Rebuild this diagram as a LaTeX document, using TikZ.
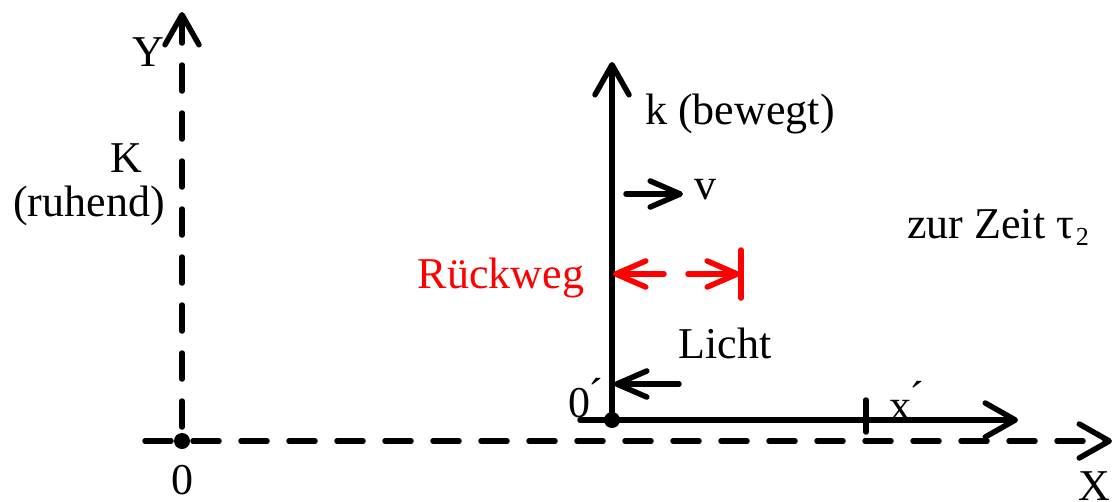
\documentclass[tikz,border=0pt]{standalone}
\usepackage{fontspec}
\setmainfont{Liberation Serif}
\usetikzlibrary{arrows.meta}
\begin{document}
\begin{tikzpicture}[x=1pt,y=-1pt,
  lbl/.style={font=\fontsize{44}{48}\selectfont, inner sep=0pt},
  ax/.style={line width=5.5pt, line cap=round},
  dash axis/.style={ax, dash pattern=on 26pt off 22pt},
  tip/.style={-{Straight Barb[length=30pt,width=34pt,line cap=round,line join=round]}},
  smalltip/.style={-{Straight Barb[length=30pt,width=26pt,line cap=round,line join=round]}},
  dotnode/.style={circle, fill=black, inner sep=0pt, minimum size=16pt}]
\useasboundingbox (0,0) rectangle (1118,501);
% rest frame K
\coordinate (O) at (182,441);
\coordinate (Yend) at (182,12);
\coordinate (Xstart) at (145,441);
\coordinate (Xend) at (1112,441);
\draw[dash axis, tip] (O) ++(0,-14) -- (Yend);
\draw[dash axis, tip] (Xstart) -- (Xend);
\node[dotnode] (o) at (O) {};
\node[lbl] (zero) at (182,480) {0};
\node[lbl] (Y) at (148,52) {Y};
\node[lbl] (K) at (126,158) {K};
\node[lbl] (ruh) at (89,206) {(ruhend)};
\node[lbl] (X) at (1094,486) {X};
% moving frame k
\coordinate (Op) at (612,420);
\coordinate (kend) at (612,62);
\coordinate (xend) at (1018,420);
\coordinate (xstart) at (580,420);
\draw[ax, tip] (Op) -- (kend);
\draw[ax, tip] (xstart) -- (xend);
\node[dotnode] (op) at (Op) {};
\coordinate (tk1) at (866,400);
\coordinate (tk2) at (866,432);
\draw[ax] (tk1) -- (tk2);
\node[lbl] (xp) at (906,401) {x\'{}};
\node[lbl] (zp) at (585,398) {0\'{}};
\node[lbl] (k) at (740,114) {k (bewegt)};
% velocity
\coordinate (v1) at (626,194);
\coordinate (v2) at (683,194);
\draw[ax, smalltip] (v1) -- (v2);
\node[lbl] (v) at (705,190) {v};
\node[lbl, anchor=west] (zeit) at (907,227) {zur Zeit τ\kern2pt\raisebox{-7pt}{\fontsize{26}{28}\selectfont 2}};
% light, return path
\coordinate (r1) at (664,274);
\coordinate (r2) at (613,274);
\coordinate (r3) at (688,274);
\coordinate (r4) at (740,274);
\coordinate (b1) at (741,250);
\coordinate (b2) at (741,298);
\draw[ax, red, smalltip] (r1) -- (r2);
\draw[ax, red, smalltip] (r3) -- (r4);
\draw[ax, red] (b1) -- (b2);
\node[lbl, text=red] (rw) at (501,278) {Rückweg};
\node[lbl] (licht) at (725,343) {Licht};
\coordinate (l1) at (679,384);
\coordinate (l2) at (614,384);
\draw[ax, smalltip] (l1) -- (l2);
\end{tikzpicture}
\end{document}
